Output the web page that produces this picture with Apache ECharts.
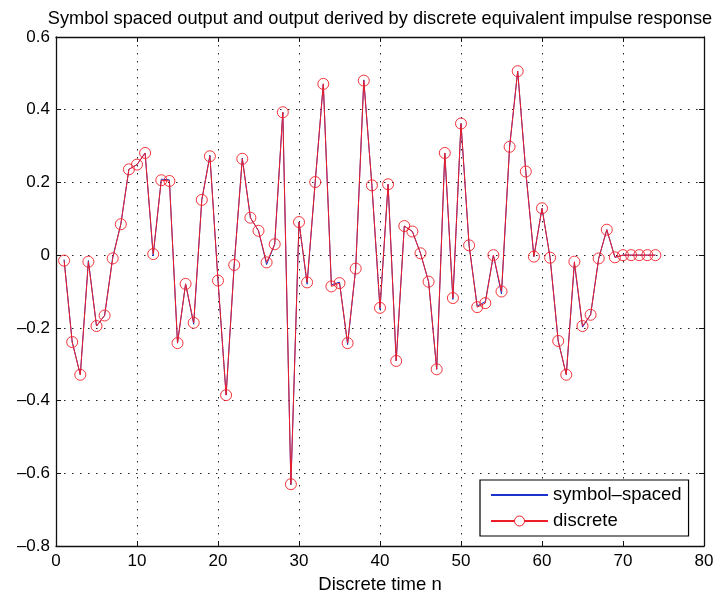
<!DOCTYPE html>
<html>
<head>
<meta charset="utf-8">
<script src="https://cdn.jsdelivr.net/npm/echarts@6/dist/echarts.min.js"></script>
<style>html,body{margin:0;padding:0;background:#fff}#c{width:721px;height:599px}</style>
</head>
<body>
<div id="c"></div>
<script>
const titleText = 'Symbol spaced output and output derived by discrete equivalent impulse response';
const xName = 'Discrete time n';
const seriesNames = ['symbol–spaced', 'discrete'];
const n = [];
for (let i = 1; i <= 74; i++) n.push(i);
const discrete = [
  -0.015, -0.239, -0.329, -0.018, -0.195, -0.166, -0.009, 0.085, 0.236, 0.249,
  0.281, 0.003, 0.206, 0.204, -0.242, -0.079, -0.186, 0.152, 0.272, -0.070,
  -0.385, -0.027, 0.265, 0.103, 0.067, -0.020, 0.030, 0.393, -0.630, 0.091,
  -0.075, 0.201, 0.471, -0.086, -0.077, -0.242, -0.037, 0.480, 0.192, -0.145,
  0.195, -0.291, 0.080, 0.065, 0.005, -0.073, -0.314, 0.281, -0.118, 0.362,
  0.027, -0.143, -0.132, 0.000, -0.100, 0.298, 0.506, 0.230, -0.004, 0.129,
  -0.007, -0.236, -0.329, -0.018, -0.195, -0.164, -0.009, 0.070, -0.006, 0.000,
  0.000, 0.000, 0.000, 0.000
];
const symbolSpaced = [
  -0.012, -0.239, -0.329, -0.015, -0.195, -0.166, -0.006, 0.085, 0.236, 0.249,
  0.281, -0.002, 0.209, 0.207, -0.242, -0.079, -0.190, 0.152, 0.275, -0.070,
  -0.385, -0.027, 0.267, 0.103, 0.067, -0.026, 0.030, 0.393, -0.632, 0.091,
  -0.080, 0.201, 0.471, -0.082, -0.074, -0.246, -0.037, 0.482, 0.192, -0.150,
  0.195, -0.291, 0.080, 0.065, 0.005, -0.073, -0.314, 0.281, -0.122, 0.362,
  0.027, -0.140, -0.128, 0.000, -0.107, 0.298, 0.506, 0.230, -0.004, 0.129,
  -0.007, -0.236, -0.329, -0.022, -0.198, -0.164, -0.009, 0.070, -0.006, 0.000,
  0.000, 0.000, 0.000, 0.000
];
const xTicks = {min: 0, max: 80, interval: 10};
const yTicks = {min: -0.8, max: 0.6, interval: 0.2};

const fmtY = v => {
  const r = Math.round(v * 10) / 10;
  if (Math.abs(r) < 1e-9) return '0';
  return r.toFixed(1).replace('-', '–');
};
const font = 'Liberation Sans, Arial, Helvetica, sans-serif';
const gridLine = {show: true, lineStyle: {color: '#222', type: [1.5, 6.5], width: 1}};
const axisBase = {
  axisLine: {show: true, onZero: false, lineStyle: {color: '#111', width: 1.3}},
  axisTick: {show: true, inside: true, length: 5, lineStyle: {color: '#111'}},
  splitLine: {show: false},
};
const chart = echarts.init(document.getElementById('c'), null, {renderer: 'canvas'});
chart.setOption({
  animation: false,
  backgroundColor: '#fff',
  title: {
    text: titleText, left: 375, textAlign: 'center', top: 5,
    textStyle: {fontFamily: font, fontSize: 18.2, fontWeight: 'normal', color: '#000'}
  },
  grid: {left: 56, right: 17, top: 37, bottom: 50},
  legend: {
    orient: 'vertical', left: 480, top: 480,
    padding: [5, 7, 5, 10], itemGap: 6, itemWidth: 57, itemHeight: 12.5,
    backgroundColor: '#fff', borderColor: '#000', borderWidth: 1.2, borderRadius: 0,
    itemStyle: {borderWidth: 1},
    textStyle: {fontFamily: font, fontSize: 18.5, color: '#000', lineHeight: 20},
    data: [
      {name: seriesNames[0], itemStyle: {color: 'rgba(0,0,0,0)', borderColor: 'rgba(0,0,0,0)', borderWidth: 0}},
      {name: seriesNames[1], itemStyle: {color: '#fff', borderColor: '#f01e28', borderWidth: 1}}
    ]
  },
  xAxis: [
    Object.assign({}, axisBase, {
      type: 'value', min: xTicks.min, max: xTicks.max, interval: xTicks.interval,
      position: 'bottom',
      name: xName, nameLocation: 'middle', nameGap: 29,
      nameTextStyle: {fontFamily: font, fontSize: 18.5, color: '#000'},
      axisLabel: {fontFamily: font, fontSize: 17, color: '#000', margin: 7},
      splitLine: gridLine
    }),
    Object.assign({}, axisBase, {
      type: 'value', min: xTicks.min, max: xTicks.max, interval: xTicks.interval,
      position: 'top', axisLabel: {show: false}
    })
  ],
  yAxis: [
    Object.assign({}, axisBase, {
      type: 'value', min: yTicks.min, max: yTicks.max, interval: yTicks.interval,
      position: 'left',
      axisLabel: {fontFamily: font, fontSize: 17, color: '#000', margin: 6, formatter: fmtY},
      splitLine: gridLine
    }),
    Object.assign({}, axisBase, {
      type: 'value', min: yTicks.min, max: yTicks.max, interval: yTicks.interval,
      position: 'right', axisLabel: {show: false}
    })
  ],
  series: [
    {
      name: seriesNames[0], type: 'line', xAxisIndex: 0, yAxisIndex: 0,
      data: n.map((x, i) => [x, symbolSpaced[i]]),
      showSymbol: false, symbol: 'none',
      lineStyle: {color: '#1a33cc', width: 1},
      itemStyle: {color: '#1a33cc'}
    },
    {
      name: seriesNames[1], type: 'line', xAxisIndex: 0, yAxisIndex: 0,
      data: n.map((x, i) => [x, discrete[i]]),
      symbol: 'circle', symbolSize: 11, showAllSymbol: true,
      lineStyle: {color: '#f01e28', width: 1},
      itemStyle: {color: 'rgba(255,255,255,0)', borderColor: '#f01e28', borderWidth: 0.9}
    }
  ]
});
</script>
</body>
</html>
